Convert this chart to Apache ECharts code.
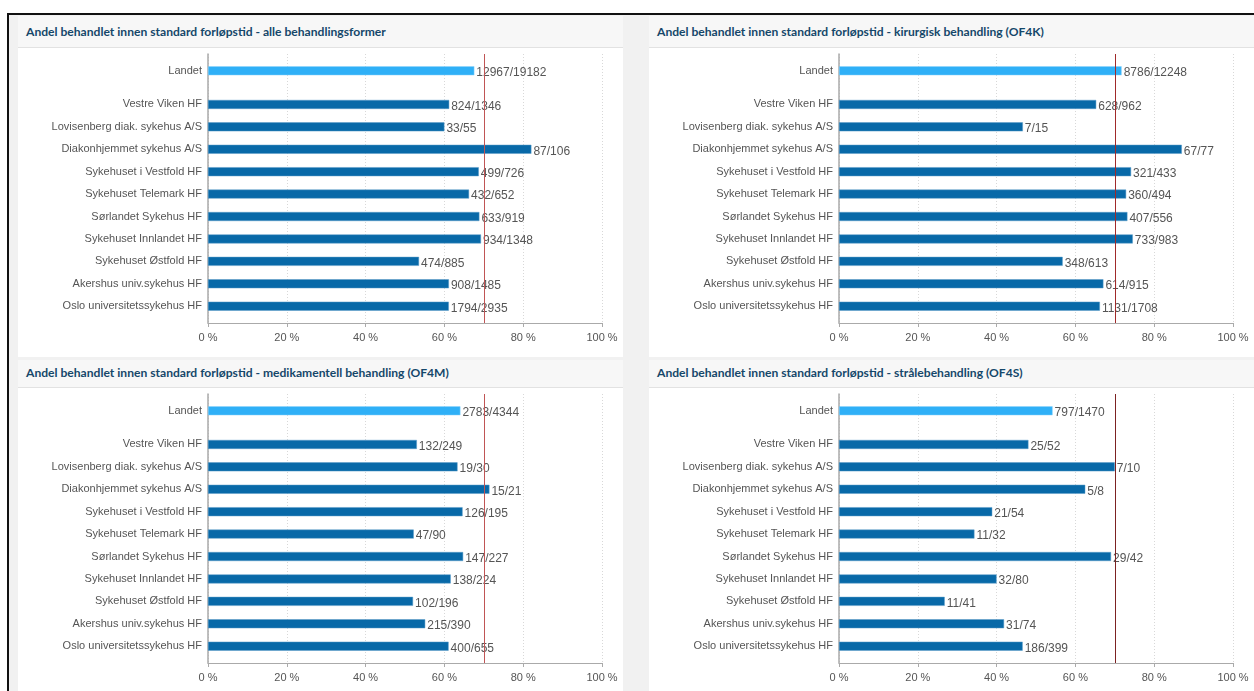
<!DOCTYPE html>
<html>
<head>
<meta charset="utf-8">
<script src="https://cdn.jsdelivr.net/npm/echarts@6/dist/echarts.min.js"></script>
<style>
    html, body { margin: 0; padding: 0; background: #fff; }
    body { width: 1254px; height: 691px; position: relative; overflow: hidden; font-family: "Liberation Sans", Arial, sans-serif; }
    .frame { position: absolute; left: 7px; top: 13px; right: 0; bottom: 0; border-top: 2px solid #111; border-left: 2px solid #111; background: #f1f1f1; }
    .panel-title { position: absolute; background: #f7f7f7; border-bottom: 1px solid #e2e2e2; color: #15476a; font-family: Lato, "Liberation Sans", sans-serif; font-weight: bold; font-size: 12.1px; padding-left: 8px; box-sizing: border-box; white-space: nowrap; }
    .chart-content { position: absolute; background: #fff; }
</style>
</head>
<body>
<div class="frame"></div>

<div class="panel-title" style="left:18px; top:16px; width:605px; height:32px; line-height:31px;">Andel behandlet innen standard forløpstid - alle behandlingsformer</div>
<div id="chartAlle" class="chart-content" style="left:18px; top:48px; width:605px; height:309px;"></div>

<div class="panel-title" style="left:649px; top:16px; width:605px; height:32px; line-height:31px;">Andel behandlet innen standard forløpstid - kirurgisk behandling (OF4K)</div>
<div id="chartKir" class="chart-content" style="left:649px; top:48px; width:605px; height:309px;"></div>

<div class="panel-title" style="left:18px; top:360px; width:605px; height:28px; line-height:26px;">Andel behandlet innen standard forløpstid - medikamentell behandling (OF4M)</div>
<div id="chartMed" class="chart-content" style="left:18px; top:388px; width:605px; height:303px;"></div>

<div class="panel-title" style="left:649px; top:360px; width:605px; height:28px; line-height:26px;">Andel behandlet innen standard forløpstid - strålebehandling (OF4S)</div>
<div id="chartStr" class="chart-content" style="left:649px; top:388px; width:605px; height:303px;"></div>

<script>
    // units, top to bottom (Landet first)
    const units = ['Landet', 'Vestre Viken HF', 'Lovisenberg diak. sykehus A/S', 'Diakonhjemmet sykehus A/S',
        'Sykehuset i Vestfold HF', 'Sykehuset Telemark HF', 'Sørlandet Sykehus HF', 'Sykehuset Innlandet HF',
        'Sykehuset Østfold HF', 'Akershus univ.sykehus HF', 'Oslo universitetssykehus HF'];

    // behandlet innen standard forløpstid / totalt
    const alleInnen = [12967, 824, 33, 87, 499, 432, 633, 934, 474, 908, 1794];
    const alleTotal = [19182, 1346, 55, 106, 726, 652, 919, 1348, 885, 1485, 2935];

    const kirInnen = [8786, 628, 7, 67, 321, 360, 407, 733, 348, 614, 1131];
    const kirTotal = [12248, 962, 15, 77, 433, 494, 556, 983, 613, 915, 1708];

    const medInnen = [2783, 132, 19, 15, 126, 47, 147, 138, 102, 215, 400];
    const medTotal = [4344, 249, 30, 21, 195, 90, 227, 224, 196, 390, 655];

    const strInnen = [797, 25, 7, 5, 21, 11, 29, 32, 11, 31, 186];
    const strTotal = [1470, 52, 10, 8, 54, 32, 42, 80, 41, 74, 399];

    const xTicks = [0, 20, 40, 60, 80, 100];
    const target = 70;

    // category slots: Landet sits apart from the health trusts
    const slotCount = 24;
    const slotOf = i => i === 0 ? 1 : 2 * i + 2;

    function drawChart(id, innen, total, lineColor, gridBottom) {
        let chart = echarts.init(document.getElementById(id));
        let cats = new Array(slotCount).fill('');
        let data = new Array(slotCount).fill(null);
        units.forEach((u, i) => {
            cats[slotOf(i)] = u;
            data[slotOf(i)] = {
                value: innen[i] / total[i] * 100,
                frac: innen[i] + '/' + total[i],
                itemStyle: { color: i === 0 ? '#2fb0f7' : '#0869a8', borderColor: i === 0 ? '#8fd3fb' : '#5b9cc8', borderWidth: 0.5 }
            };
        });
        let textFont = { fontFamily: 'Liberation Sans', fontSize: 11, color: '#555' };
        let option = {
            animation: false,
            grid: { left: 190, width: 394, top: 6, bottom: gridBottom },
            xAxis: {
                type: 'value',
                min: 0,
                max: 100,
                interval: 20,
                axisLine: { show: true, lineStyle: { color: '#aaa' } },
                axisTick: { show: true, length: 4, lineStyle: { color: '#aaa' } },
                axisLabel: Object.assign({ formatter: v => xTicks.indexOf(v) >= 0 ? v + ' %' : '', margin: 9 }, textFont),
                splitLine: { show: true, lineStyle: { color: '#d8d8d8', type: [1, 2] } }
            },
            yAxis: {
                type: 'category',
                inverse: true,
                data: cats,
                axisLine: { show: true, lineStyle: { color: '#aaa', width: 1.5 } },
                axisTick: { show: false },
                axisLabel: Object.assign({ interval: 0, margin: 6 }, textFont)
            },
            series: [{
                type: 'bar',
                barWidth: 9,
                data: data,
                label: Object.assign({}, textFont, {
                    show: true,
                    position: 'right',
                    distance: 2,
                    offset: [0, 2],
                    fontSize: 12,
                    formatter: p => p.data.frac
                }),
                markLine: {
                    silent: true,
                    symbol: 'none',
                    label: { show: false },
                    lineStyle: { color: lineColor, width: 1, type: 'solid' },
                    data: [{ xAxis: target }]
                }
            }]
        };
        chart.setOption(option);
    }

    drawChart('chartAlle', alleInnen, alleTotal, '#c05555', 34);
    drawChart('chartKir', kirInnen, kirTotal, '#a02a2a', 34);
    drawChart('chartMed', medInnen, medTotal, '#c05555', 28);
    drawChart('chartStr', strInnen, strTotal, '#7c2222', 28);
</script>
</body>
</html>
